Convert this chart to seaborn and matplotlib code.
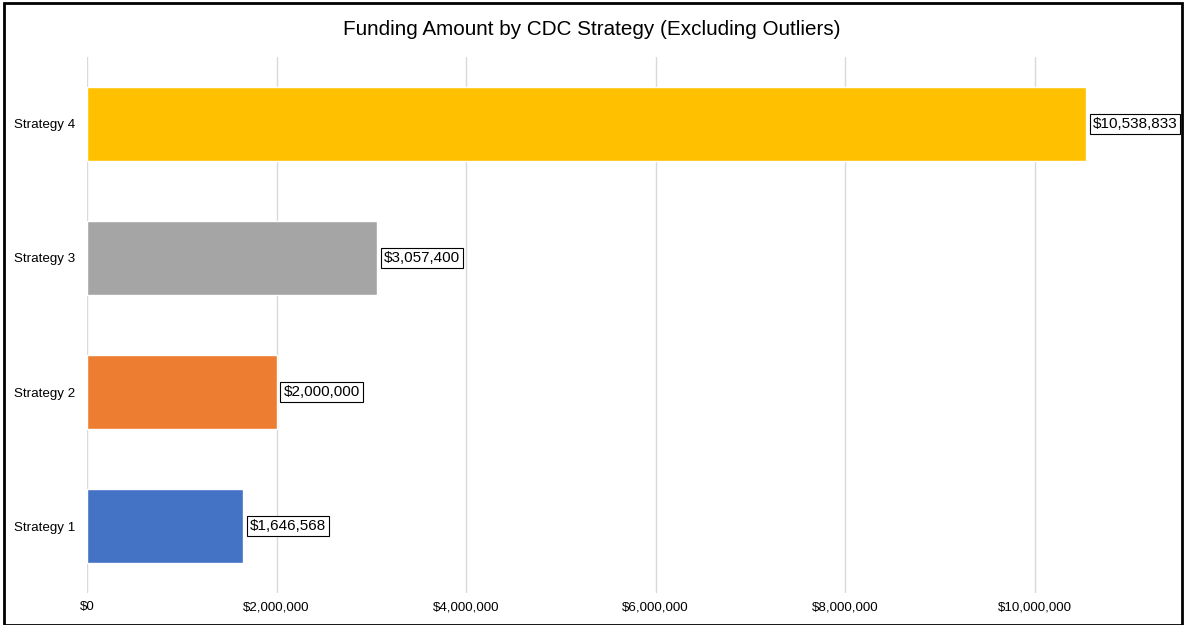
import matplotlib
matplotlib.use("Agg")
import matplotlib.pyplot as plt
import seaborn as sns
import pandas as pd
from matplotlib.patches import Rectangle
from matplotlib.ticker import FuncFormatter

strategies = ["Strategy 4", "Strategy 3", "Strategy 2", "Strategy 1"]
funding = [10538833, 3057400, 2000000, 1646568]
bar_colors = ["#FFC000", "#A5A5A5", "#ED7D31", "#4472C4"]
x_ticks = [0, 2000000, 4000000, 6000000, 8000000, 10000000]

df = pd.DataFrame({"Strategy": strategies, "Funding": funding})

sns.set_style("white")
plt.rcParams["font.family"] = ["Liberation Sans", "DejaVu Sans"]
plt.rcParams["text.color"] = "black"

fig = plt.figure(figsize=(11.84, 6.25), dpi=100)
ax = fig.add_axes([0.0735, 0.051, 0.9165, 0.858])

sns.barplot(data=df, y="Strategy", x="Funding", hue="Strategy",
            palette=bar_colors, order=strategies, hue_order=strategies,
            width=0.546, legend=False, ax=ax, saturation=1, zorder=3)

ax.set_xlim(0, 11450000)
ax.set_xticks(x_ticks)
ax.xaxis.set_major_formatter(FuncFormatter(lambda v, p: f"${v:,.0f}"))
ax.grid(axis="x", color="#D9D9D9", linewidth=1, zorder=0)
ax.set_axisbelow(True)
for s in ax.spines.values():
    s.set_visible(False)
ax.tick_params(axis="both", length=0, labelsize=9.6, colors="#000000")
ax.tick_params(axis="x", pad=6)
ax.tick_params(axis="y", pad=8.5)
ax.set_xlabel("")
ax.set_ylabel("")

for i, v in enumerate(funding):
    ax.text(v + 72000, i, f"${v:,.0f}", va="center", ha="left", fontsize=11,
            color="black",
            bbox=dict(boxstyle="square,pad=0.2", facecolor="white",
                      edgecolor="black", linewidth=0.8), zorder=5)

fig.text(0.5, 0.953, "Funding Amount by CDC Strategy (Excluding Outliers)",
         ha="center", va="center", fontsize=14.9, color="black")

fig.patches.append(Rectangle((0.003, 0.0), 0.995, 0.995, transform=fig.transFigure,
                             fill=False, edgecolor="black", linewidth=2))

fig.savefig("out.png", dpi=100)
